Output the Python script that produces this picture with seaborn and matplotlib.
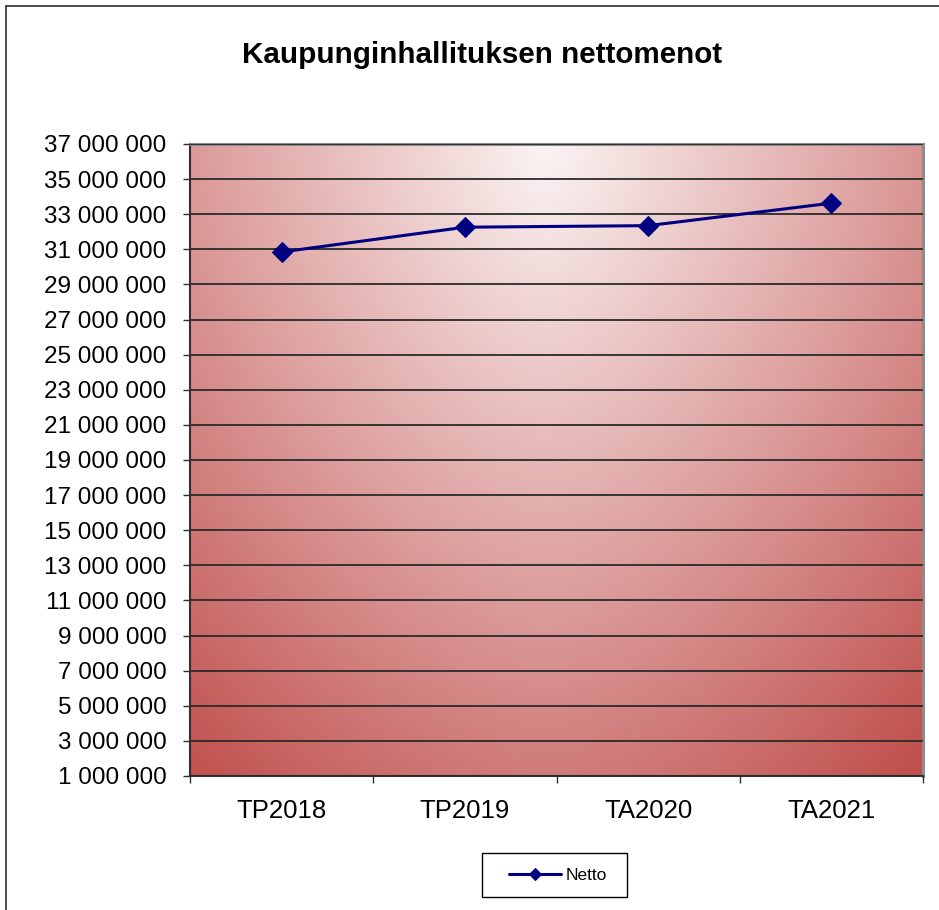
"""
Kaupunginhallituksen nettomenot - line chart with an Excel style gradient plot area.
"""

import numpy as np
import pandas as pd
import matplotlib
matplotlib.use('Agg')
import matplotlib.pyplot as plt
from matplotlib.lines import Line2D
from matplotlib.patches import Rectangle
from matplotlib.ticker import FuncFormatter, FixedLocator
import seaborn as sns

#  Data
years = ['TP2018', 'TP2019', 'TA2020', 'TA2021']
netto = [30850000, 32260000, 32350000, 33630000]
y_ticks = list(range(1000000, 37000001, 2000000))

title = 'Kaupunginhallituksen nettomenot'

#  Style
sns.set_style('white')
plt.rcParams['font.family'] = ['Liberation Sans', 'DejaVu Sans']
plt.rcParams['text.color'] = 'black'
plt.rcParams['xtick.color'] = 'black'
plt.rcParams['ytick.color'] = 'black'

df = pd.DataFrame({'Vuosi': years, 'Netto': netto})

#  Figure, 939 x 910 px
fig = plt.figure(figsize=(9.39, 9.10), dpi=100)
fig.patch.set_facecolor('white')
ax = fig.add_axes([190 / 939, 1 - 776 / 910, (923 - 190) / 939, (776 - 144) / 910])

#  Radial gradient from top centre (white) to corners (red)
w, h = 733, 632
xx, yy = np.meshgrid(np.arange(w), np.arange(h))
dx = np.abs(xx - 355) / 645
dy = yy / 860
t = np.clip((dx ** 1.6 + dy ** 1.6) ** (1 / 1.6), 0, 1)[..., None]
light = np.array([251, 244, 244]) / 255
dark = np.array([192, 80, 77]) / 255
img = light * (1 - t) + dark * t
ax.imshow(img, extent=[0, 1, 0, 1], transform=ax.transAxes, aspect='auto',
          zorder=0, origin='upper')

#  Line
sns.lineplot(data=df, x='Vuosi', y='Netto', marker='D', markersize=10,
             color='#000080', linewidth=2.2, markeredgecolor='#000080',
             label='Netto', ax=ax, zorder=3, sort=False)

#  Axis limits and ticks
ax.set_xlim(-0.5, 3.5)
ax.set_ylim(1000000, 37000000)
ax.set_xticks(range(len(years)))
ax.set_xticklabels(years)
ax.xaxis.set_minor_locator(FixedLocator(np.arange(-0.5, 3.6, 1)))
ax.set_yticks(y_ticks)
ax.yaxis.set_major_formatter(FuncFormatter(lambda v, p: f'{int(v):,}'.replace(',', ' ')))
ax.set_xlabel('')
ax.set_ylabel('')

ax.tick_params(axis='y', which='major', left=True, length=5, width=1, color='#303030',
               direction='out', pad=12, labelsize=17.5, labelcolor='black')
ax.tick_params(axis='x', which='major', bottom=False, pad=13, labelsize=18.5,
               labelcolor='black')
ax.tick_params(axis='x', which='minor', bottom=True, length=5, width=1,
               color='#303030', direction='out')

#  Gridlines
ax.grid(axis='y', color='#2a2a2a', linewidth=1.3)
ax.set_axisbelow(False)
for ln in ax.get_ygridlines():
    ln.set_zorder(1)

#  Spines
ax.spines['left'].set_color('#303030')
ax.spines['left'].set_linewidth(1.5)
ax.spines['bottom'].set_color('#303030')
ax.spines['bottom'].set_linewidth(1.5)
ax.spines['top'].set_color('#8c8c8c')
ax.spines['top'].set_linewidth(2.2)
ax.spines['right'].set_color('#8c8c8c')
ax.spines['right'].set_linewidth(2.2)

#  Legend (frame drawn separately to match the box size)
leg = ax.legend(loc='center', bbox_to_anchor=(558 / 939, 1 - 875 / 910),
                bbox_transform=fig.transFigure, fontsize=12.5, frameon=False,
                handlelength=3.0, handletextpad=0.3, borderaxespad=0)
leg.legend_handles[0].set_markersize(6)
leg.legend_handles[0].set_linewidth(2.2)
fig.add_artist(Rectangle((482 / 939, 1 - 897 / 910), 145 / 939, 44 / 910,
                         transform=fig.transFigure, fill=False,
                         edgecolor='black', linewidth=1.0))

#  Title
fig.text(482 / 939, 1 - 63 / 910, title, ha='center', va='baseline',
         fontsize=21.3, fontweight='bold', color='black')

#  Outer chart border (left and top edges visible)
fig.add_artist(Line2D([5.5 / 939, 5.5 / 939], [0, 1 - 5.5 / 910],
                      transform=fig.transFigure, color='#303030', linewidth=1.2))
fig.add_artist(Line2D([5.5 / 939, 1], [1 - 5.5 / 910, 1 - 5.5 / 910],
                      transform=fig.transFigure, color='#303030', linewidth=1.2))

plt.savefig('out.png', dpi=100)
